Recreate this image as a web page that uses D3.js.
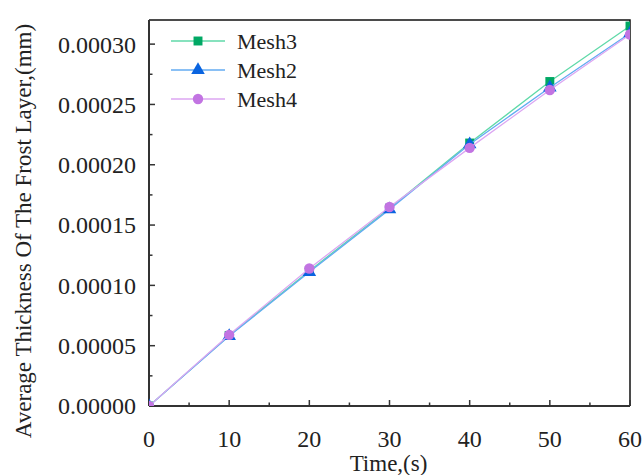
<!DOCTYPE html>
<html lang="en">
<head>
    <meta charset="UTF-8">
    <title>Frost Layer Thickness</title>
    <script src="https://d3js.org/d3.v7.min.js"></script>
    <style>
        body { margin: 0; background: #fff; }
    </style>
</head>
<body>
    <svg width="643" height="475" font-family="'Liberation Serif', 'Times New Roman', serif"></svg>

    <script>
        // data
        const times = [0, 10, 20, 30, 40, 50, 60];
        const mesh3 = [0, 0.0000585, 0.000112, 0.000164, 0.000218, 0.000269, 0.000315];
        const mesh2 = [0, 0.0000580, 0.000111, 0.000163, 0.000217, 0.000264, 0.000309];
        const mesh4 = [0, 0.0000590, 0.000114, 0.000165, 0.000214, 0.000262, 0.000308];
        const xTicks = [0, 10, 20, 30, 40, 50, 60];
        const yTicks = [0, 0.00005, 0.0001, 0.00015, 0.0002, 0.00025, 0.0003];

        const series = [
            { name: "Mesh3", values: mesh3, line: "#5fd9a8", fill: "#00a864", shape: "square" },
            { name: "Mesh2", values: mesh2, line: "#63abf2", fill: "#0a64e0", shape: "triangle" },
            { name: "Mesh4", values: mesh4, line: "#dca6f2", fill: "#c274e2", shape: "circle" }
        ];

        const margin = { top: 20, right: 13, bottom: 69, left: 149 },
              width = 643 - margin.left - margin.right,
              height = 475 - margin.top - margin.bottom;

        const svg = d3.select("svg");
        const g = svg.append("g")
                     .attr("transform", `translate(${margin.left},${margin.top})`);

        const x = d3.scaleLinear().domain([0, 60]).range([0, width]);
        const y = d3.scaleLinear().domain([0, 0.00032]).range([height, 0]);

        g.append("clipPath").attr("id", "plot")
         .append("rect").attr("width", width).attr("height", height);

        // frame (top/right)
        g.append("path")
         .attr("d", `M0,0H${width}V${height}`)
         .attr("fill", "none")
         .attr("stroke", "#111")
         .attr("stroke-width", 1.5);

        // minor ticks
        const xMinor = d3.range(5, 60, 10);
        const yMinor = d3.range(0.000025, 0.00032, 0.00005);

        const xAxis = g.append("g").attr("transform", `translate(0,${height})`);
        xAxis.append("line").attr("x1", 0).attr("x2", width)
             .attr("stroke", "#333").attr("stroke-width", 2);
        xAxis.selectAll(".maj").data(xTicks).enter().append("line")
             .attr("x1", d => x(d)).attr("x2", d => x(d))
             .attr("y1", 0).attr("y2", -6)
             .attr("stroke", "#333").attr("stroke-width", 1.5);
        xAxis.selectAll(".min").data(xMinor).enter().append("line")
             .attr("x1", d => x(d)).attr("x2", d => x(d))
             .attr("y1", 0).attr("y2", -3.5)
             .attr("stroke", "#333").attr("stroke-width", 1.5);
        xAxis.selectAll("text").data(xTicks).enter().append("text")
             .attr("x", d => x(d)).attr("y", 41)
             .attr("text-anchor", "middle")
             .attr("fill", "#222")
             .style("font-size", "24px")
             .text(d => d);

        const yAxis = g.append("g");
        yAxis.append("line").attr("y1", 0).attr("y2", height)
             .attr("stroke", "#333").attr("stroke-width", 2);
        yAxis.selectAll(".maj").data(yTicks).enter().append("line")
             .attr("y1", d => y(d)).attr("y2", d => y(d))
             .attr("x1", 0).attr("x2", 6)
             .attr("stroke", "#333").attr("stroke-width", 1.5);
        yAxis.selectAll(".min").data(yMinor).enter().append("line")
             .attr("y1", d => y(d)).attr("y2", d => y(d))
             .attr("x1", 0).attr("x2", 3.5)
             .attr("stroke", "#333").attr("stroke-width", 1.5);
        yAxis.selectAll("text").data(yTicks).enter().append("text")
             .attr("x", -13).attr("y", d => y(d))
             .attr("dy", "0.35em")
             .attr("text-anchor", "end")
             .attr("fill", "#222")
             .style("font-size", "24px")
             .text(d => d3.format(".5f")(d));

        // lines and markers
        const line = d3.line().x((d, i) => x(times[i])).y(d => y(d));
        const sym = { square: d3.symbolSquare, triangle: d3.symbolTriangle, circle: d3.symbolCircle };
        const size = { square: 80, triangle: 80, circle: 85 };

        const plot = g.append("g").attr("clip-path", "url(#plot)");
        series.forEach(s => {
            plot.append("path")
                .datum(s.values)
                .attr("d", line)
                .attr("fill", "none")
                .attr("stroke", s.line)
                .attr("stroke-width", 1.3);
            plot.selectAll(null).data(s.values).enter().append("path")
                .attr("transform", (d, i) => `translate(${x(times[i])},${y(d)})`)
                .attr("d", d3.symbol().type(sym[s.shape]).size(size[s.shape]))
                .attr("fill", s.fill);
        });

        // legend
        const legend = g.append("g").attr("transform", "translate(22,21)");
        series.forEach((s, i) => {
            const row = legend.append("g").attr("transform", `translate(0,${i * 29})`);
            row.append("line").attr("x1", 0).attr("x2", 54)
               .attr("stroke", s.line).attr("stroke-width", 1.3);
            row.append("path")
               .attr("transform", "translate(27,0)")
               .attr("d", d3.symbol().type(sym[s.shape]).size(size[s.shape]))
               .attr("fill", s.fill);
            row.append("text")
               .attr("x", 66).attr("dy", "0.35em")
               .attr("fill", "#222")
               .style("font-size", "22px")
               .text(s.name);
        });

        // axis titles
        svg.append("text")
           .attr("x", margin.left + width / 2 - 1)
           .attr("y", 471)
           .attr("text-anchor", "middle")
           .attr("fill", "#222")
           .style("font-size", "23px")
           .text("Time,(s)");

        svg.append("text")
           .attr("transform", "translate(31,231) rotate(-90)")
           .attr("text-anchor", "middle")
           .attr("fill", "#222")
           .style("font-size", "23px")
           .text("Average Thickness Of The Frost Layer,(mm)");
    </script>
</body>
</html>
